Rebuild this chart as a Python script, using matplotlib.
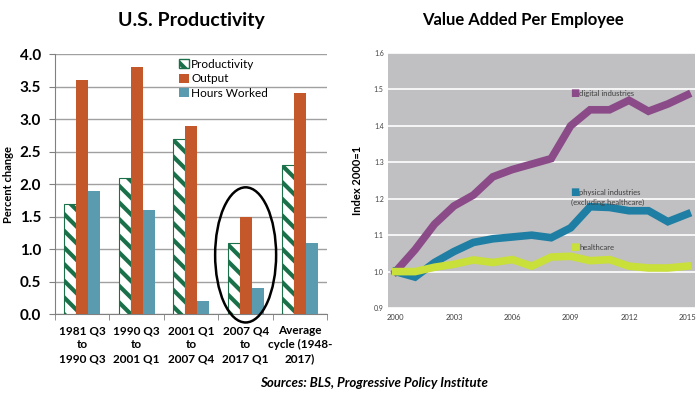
import numpy as np
import matplotlib
matplotlib.use('Agg')
import matplotlib.pyplot as plt
from matplotlib.patches import Ellipse, Patch

plt.rcParams['font.family'] = ['Lato', 'DejaVu Sans']
plt.rcParams['hatch.linewidth'] = 3.0

# left chart data
periods = ['1981 Q3\nto\n1990 Q3', '1990 Q3\nto\n2001 Q1', '2001 Q1\nto\n2007 Q4',
           '2007 Q4\nto\n2017 Q1', 'Average\ncycle (1948-\n2017)']
productivity = [1.7, 2.1, 2.7, 1.1, 2.3]
output = [3.6, 3.8, 2.9, 1.5, 3.4]
hours_worked = [1.9, 1.6, 0.2, 0.4, 1.1]

# right chart data
years = list(range(2000, 2016))
digital = [1.0, 1.06, 1.13, 1.18, 1.21, 1.26, 1.28, 1.295, 1.31, 1.40,
           1.444, 1.444, 1.47, 1.44, 1.46, 1.485]
physical = [1.0, 0.985, 1.025, 1.055, 1.08, 1.09, 1.095, 1.10, 1.093, 1.12,
            1.178, 1.176, 1.167, 1.167, 1.137, 1.158]
healthcare = [1.0, 1.0, 1.012, 1.02, 1.032, 1.025, 1.033, 1.015, 1.04, 1.042,
              1.03, 1.033, 1.015, 1.01, 1.01, 1.015]

green = '#1a7048'
orange = '#c4582a'
steel = '#5b9bb0'

fig = plt.figure(figsize=(7, 3.98), dpi=100)

# ---- U.S. Productivity
ax = fig.add_axes([0.0786, 0.211, 0.389, 0.653])
x = np.arange(len(periods))
w = 0.22
ax.bar(x - w, productivity, w, color='white', edgecolor=green, hatch='\\\\', linewidth=0.8, zorder=3)
ax.bar(x, output, w, color=orange, zorder=3)
ax.bar(x + w, hours_worked, w, color=steel, zorder=3)
ax.set_ylim(0, 4)
ax.set_xlim(-0.5, len(periods) - 0.5)
ax.set_yticks(np.arange(0, 4.01, 0.5))
ax.set_yticklabels(['%.1f' % v for v in np.arange(0, 4.01, 0.5)], fontsize=11, fontweight='bold')
ax.yaxis.grid(True, color='#a0a0a0', linewidth=1, zorder=0)
ax.set_axisbelow(True)
ax.set_xticks(x)
ax.set_xticklabels(periods, fontsize=8.5, fontweight='bold', linespacing=1.35)
ax.set_xticks(np.arange(-0.5, len(periods)), minor=True)
ax.tick_params(axis='x', which='major', length=0, pad=8)
ax.tick_params(axis='x', which='minor', length=4, color='#808080')
ax.tick_params(axis='y', length=4, color='#808080', pad=6)
for s in ['top', 'right']:
    ax.spines[s].set_visible(False)
ax.spines['left'].set_color('#808080')
ax.spines['bottom'].set_color('#808080')
ax.set_ylabel('Percent change', fontsize=8, fontweight='bold', labelpad=4)
ax.set_title('U.S. Productivity', fontsize=14, fontweight='bold', pad=20)
handles = [Patch(facecolor='white', edgecolor=green, hatch='\\\\'),
           Patch(facecolor=orange), Patch(facecolor=steel)]
ax.legend(handles, ['Productivity', 'Output', 'Hours Worked'], loc='upper right',
          bbox_to_anchor=(0.80, 1.0), borderaxespad=0, frameon=False, fontsize=8.5,
          handlelength=0.8, handleheight=0.8, handletextpad=0.2, labelspacing=0.3)
ax.add_patch(Ellipse((3.0, 0.91), 1.12, 2.08, fill=False, edgecolor='black',
                     linewidth=1.8, clip_on=False, zorder=5))

# ---- Value Added Per Employee
ax2 = fig.add_axes([0.554, 0.226, 0.439, 0.641])
ax2.set_facecolor('#c0c0c2')
ax2.plot(years, digital, color='#8a4b88', linewidth=5.5, solid_joinstyle='miter', zorder=3)
ax2.plot(years, physical, color='#1f7ea3', linewidth=5.5, solid_joinstyle='miter', zorder=3)
ax2.plot(years, healthcare, color='#c9df3a', linewidth=5.5, solid_joinstyle='miter', zorder=3)
ax2.set_ylim(0.9, 1.6)
ax2.set_xlim(1999.6, 2015.4)
ax2.set_yticks(np.arange(0.9, 1.61, 0.1))
ax2.set_yticklabels(['%.1f' % v for v in np.arange(0.9, 1.61, 0.1)], fontsize=5, color='#404040')
ax2.set_xticks([2000, 2003, 2006, 2009, 2012, 2015])
ax2.tick_params(axis='x', labelsize=5.5, labelcolor='#404040', length=0, pad=4)
ax2.tick_params(axis='y', length=0, pad=3)
ax2.yaxis.grid(True, color='white', linewidth=1.2, zorder=1)
ax2.set_axisbelow(True)
for s in ax2.spines.values():
    s.set_visible(False)
ax2.set_ylabel('Index 2000=1', fontsize=8, fontweight='bold', labelpad=8)
ax2.set_title('Value Added Per Employee', fontsize=12, fontweight='bold', pad=20, x=0.44)

ax2.text(2009.0, 1.49, '\u25a0', color='#8a4b88', fontsize=7, va='center')
ax2.text(2009.45, 1.49, 'digital industries', color='#404040', fontsize=5.5, va='center')
ax2.text(2009.0, 1.218, '\u25a0', color='#1f7ea3', fontsize=7, va='center')
ax2.text(2009.45, 1.218, 'physical industries', color='#404040', fontsize=5.5, va='center')
ax2.text(2009.0, 1.19, '(excluding healthcare)', color='#404040', fontsize=5.5, va='center')
ax2.text(2009.0, 1.066, '\u25a0', color='#c9df3a', fontsize=7, va='center')
ax2.text(2009.45, 1.066, 'healthcare', color='#404040', fontsize=5.5, va='center')

fig.text(0.535, 0.038, 'Sources: BLS, Progressive Policy Institute', fontsize=9.5,
         fontweight='bold', fontstyle='italic', ha='center', va='center')

fig.savefig('out.png', dpi=100)
